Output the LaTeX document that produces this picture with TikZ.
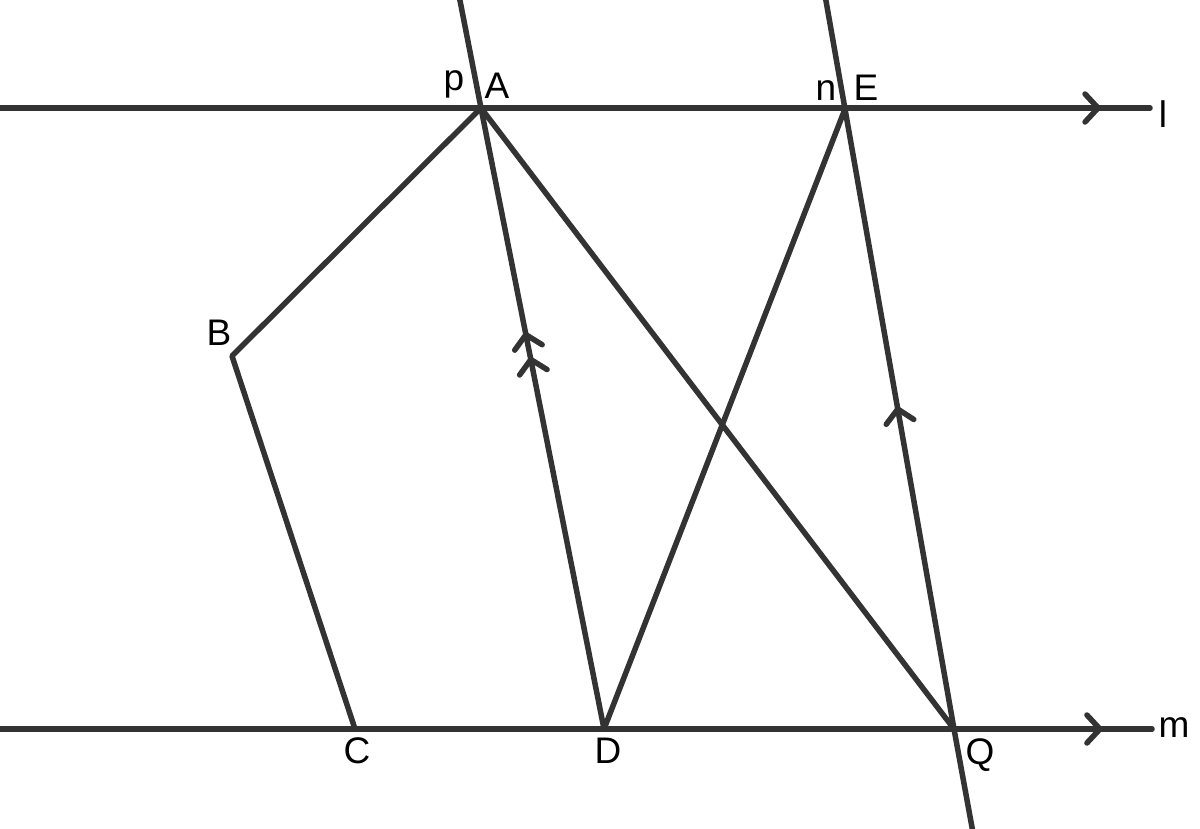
\documentclass[tikz,border=0pt]{standalone}
\usepackage{fontspec}
\setmainfont{Liberation Sans}
\usetikzlibrary{decorations.markings}
\definecolor{ink}{RGB}{51,51,51}
\tikzset{
  seg/.style={draw=ink, line width=5.5pt, line cap=round, line join=round},
  lbl/.style={inner sep=0pt, anchor=base, text=black, font=\fontsize{37}{42}\selectfont},
  chev/.style={draw=ink, line width=5.5pt, line cap=round, line join=miter},
  onechev/.style={postaction={decorate}, decoration={markings,
     mark=at position #1 with {\draw[chev] (-13,14) -- (0,0) -- (-13,-14);}}}
}
\begin{document}
\begin{tikzpicture}[x=1pt, y=-1pt]
\useasboundingbox (0,0) rectangle (1200,828);
% points
\coordinate (A) at (481,108);
\coordinate (E) at (845,109);
\coordinate (B) at (232,356);
\coordinate (C) at (355,729);
\coordinate (D) at (604,729);
\coordinate (Q) at (954,729);
\coordinate (l0) at (-5,108);
\coordinate (l1) at (1150,108);
\coordinate (m0) at (-5,729);
\coordinate (m1) at (1152,729);
\coordinate (p0) at (459.5,-2);
\coordinate (n0) at (825.5,-2);
\coordinate (n1) at (972.5,830);
% parallel lines l and m
\draw[seg] (l0) -- (l1);
\draw[seg] (m0) -- (m1);
\path[onechev=0.955] (l0) -- (l1);
\path[onechev=0.955] (m0) -- (m1);
% transversals
\draw[seg] (p0) -- (A) -- (D);
\draw[seg] (n0) -- (E) -- (Q) -- (n1);
\path[onechev=0.635] (D) -- (A);
\path[onechev=0.595] (D) -- (A);
\path[onechev=0.516] (Q) -- (E);
% other segments
\draw[seg] (A) -- (B) -- (C);
\draw[seg] (A) -- (Q);
\draw[seg] (E) -- (D);
% labels
\node[lbl] (lp) at (454,90) {p};
\node[lbl] (lA) at (497,98) {A};
\node[lbl] (ln) at (826,100) {n};
\node[lbl] (lE) at (866,100) {E};
\node[lbl] (ll) at (1163,127) {l};
\node[lbl] (lB) at (219,345) {B};
\node[lbl] (lC) at (357,763) {C};
\node[lbl] (lD) at (608,763) {D};
\node[lbl] (lQ) at (980,764) {Q};
\node[lbl] (lm) at (1174,737) {m};
\end{tikzpicture}
\end{document}
